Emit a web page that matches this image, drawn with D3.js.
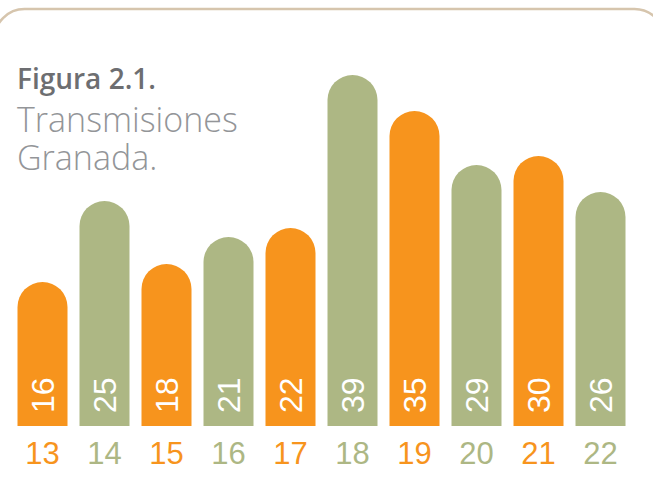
<!DOCTYPE html>
<html>
<head>
<meta charset="utf-8">
<script src="https://cdn.jsdelivr.net/npm/d3@7"></script>
<style>
  body { margin: 0; background: #fff; }
  svg { display: block; }
</style>
</head>
<body>
<div id="container"></div>
<script>
const w = 653;
const h = 499;

// data
const categories = ['13', '14', '15', '16', '17', '18', '19', '20', '21', '22'];
const values = [16, 25, 18, 21, 22, 39, 35, 29, 30, 26];
const titleBold = 'Figura 2.1.';
const titleLines = ['Transmisiones', 'Granada.'];

const orange = '#f7941d';
const green = '#adb784';
const colorOf = i => i % 2 === 0 ? orange : green;

const svg = d3.select('#container')
  .append('svg')
  .attr('width', w)
  .attr('height', h)
  .attr('viewBox', [0, 0, w, h]);

// frame
svg.append('rect')
  .attr('x', -5.5)
  .attr('y', 9)
  .attr('width', 670)
  .attr('height', 520)
  .attr('rx', 30)
  .attr('fill', 'none')
  .attr('stroke', '#d6c5ad')
  .attr('stroke-width', 2.5);

const x = d3.scaleBand()
  .domain(categories)
  .range([17.5, 625.5])
  .paddingInner(0.1935)
  .paddingOuter(0);

const y = d3.scaleLinear()
  .domain([0, 39])
  .range([426, 75]);

const bw = x.bandwidth();
const r = bw / 2;

const barPath = (d, i) => {
  const x0 = x(categories[i]);
  const top = y(d);
  return `M${x0},${y(0)}V${top + r}A${r},${r} 0 0 1 ${x0 + bw},${top + r}V${y(0)}Z`;
};

svg.append('g')
  .selectAll('path')
  .data(values)
  .join('path')
    .attr('d', barPath)
    .attr('fill', (d, i) => colorOf(i));

// values inside bars
svg.append('g')
  .selectAll('text')
  .data(values)
  .join('text')
    .attr('transform', (d, i) => `translate(${x(categories[i]) + r + 11.5},${y(0) - 13}) rotate(-90)`)
    .attr('fill', '#fff')
    .attr('font-family', 'Liberation Sans, Arial, sans-serif')
    .attr('font-size', 32)
    .text(d => d);

// x labels
svg.append('g')
  .selectAll('text')
  .data(categories)
  .join('text')
    .attr('x', d => x(d) + r)
    .attr('y', 464)
    .attr('text-anchor', 'middle')
    .attr('fill', (d, i) => colorOf(i))
    .attr('font-family', 'Liberation Sans, Arial, sans-serif')
    .attr('font-size', 31)
    .text(d => d);

// title
const title = svg.append('g')
  .attr('font-family', 'Open Sans, sans-serif');

title.append('text')
  .attr('x', 17)
  .attr('y', 89)
  .attr('fill', '#6d6e71')
  .attr('font-weight', 600)
  .attr('font-size', 28)
  .text(titleBold);

title.selectAll('text.line')
  .data(titleLines)
  .join('text')
    .attr('class', 'line')
    .attr('x', 17)
    .attr('y', (d, i) => 132 + i * 38)
    .attr('fill', '#939598')
    .attr('font-weight', 300)
    .attr('font-size', 34)
    .text(d => d);
</script>
</body>
</html>
